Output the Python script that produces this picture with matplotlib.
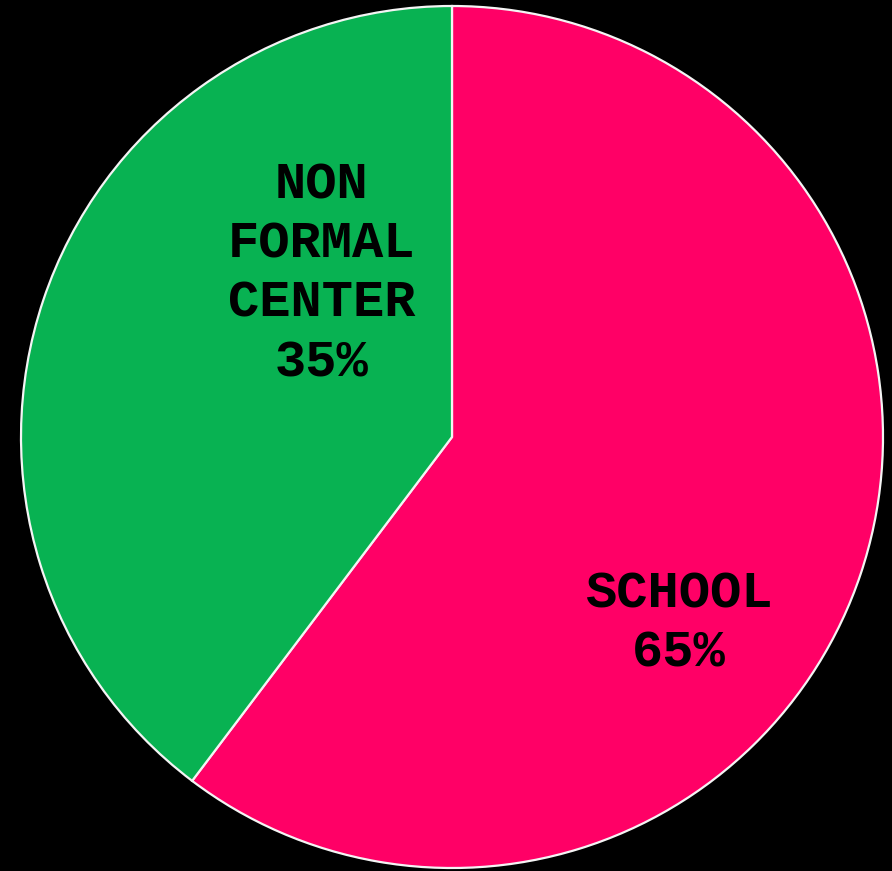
"""Pie chart: share of learners by place (school vs non formal center)."""

import matplotlib
matplotlib.use('Agg')
import matplotlib.pyplot as plt

# slice sizes as drawn (the printed labels read 65 / 35)
categories = ['SCHOOL', 'NON\nFORMAL\nCENTER']
sizes = [60.3, 39.7]
pct_labels = ['65%', '35%']
colors = ['#FF0066', '#08B252']

W, H = 892, 871

fig = plt.figure(figsize=(W / 100, H / 100), dpi=100, facecolor='black')
ax = fig.add_axes([0, 0, 1, 1])
ax.set_facecolor('black')
ax.axis('off')

# y axis is flipped, so counterclock=True shows up clockwise from 12 o'clock
center = (452, 437)
ax.pie(sizes, colors=colors, startangle=-90, counterclock=True,
       center=center, radius=431,
       wedgeprops=dict(edgecolor='#f4f4f4', linewidth=1.6))
ax.set_xlim(0, W)
ax.set_ylim(H, 0)
ax.set_aspect('equal')

font = dict(family='Liberation Mono', weight='bold', size=37.5,
            color='black', ha='center', va='center',
            multialignment='center', linespacing=1.27)

ax.text(679, 624, f'{categories[0]}\n{pct_labels[0]}', **font)
ax.text(322, 274, f'{categories[1]}\n{pct_labels[1]}', **font)

fig.savefig('out.png', dpi=100, facecolor='black')
plt.close(fig)
